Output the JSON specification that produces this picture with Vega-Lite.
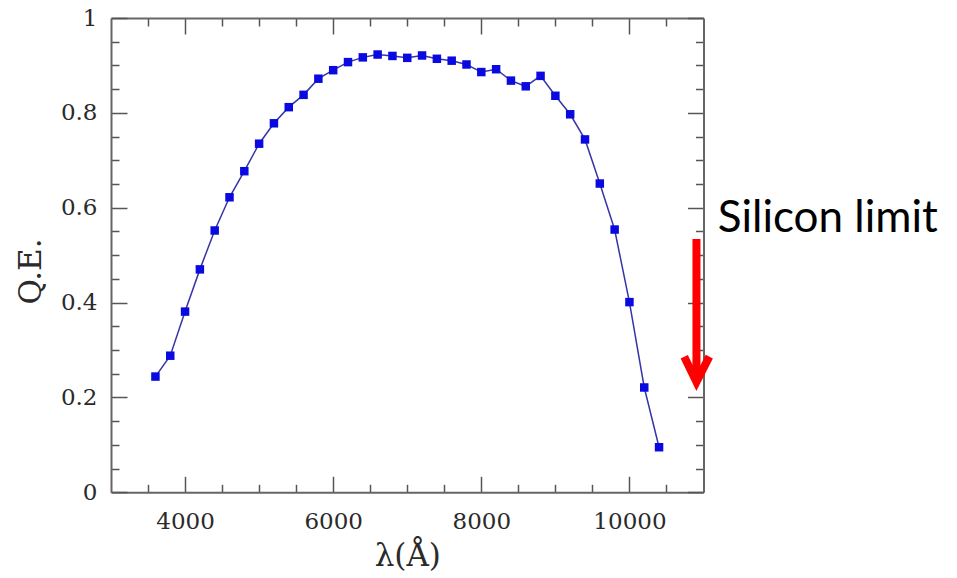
{
  "$schema": "https://vega.github.io/schema/vega-lite/v6.json",
  "autosize": {"type": "none"},
  "padding": {"left": 111, "top": 18, "right": 253.5, "bottom": 85.7},
  "width": 592.5,
  "height": 474.3,
  "background": "white",
  "config": {
    "view": {"stroke": null},
    "axis": {
      "domainColor": "#666666",
      "domainWidth": 2,
      "tickColor": "#555555",
      "tickWidth": 1.5,
      "labelFont": "DejaVu Serif",
      "labelFontSize": 23,
      "labelColor": "#2a2a2a",
      "titleFont": "DejaVu Serif",
      "titleFontSize": 31,
      "titleFontWeight": "normal",
      "titleColor": "#2a2a2a",
      "grid": false,
      "labelOverlap": false,
      "labelFlush": false,
      "labelBound": false
    }
  },
  "datasets": {
    "qe": [
      {"wavelength": 3600, "qe": 0.244},
      {"wavelength": 3800, "qe": 0.288},
      {"wavelength": 4000, "qe": 0.381},
      {"wavelength": 4200, "qe": 0.470},
      {"wavelength": 4400, "qe": 0.552},
      {"wavelength": 4600, "qe": 0.622},
      {"wavelength": 4800, "qe": 0.677},
      {"wavelength": 5000, "qe": 0.735},
      {"wavelength": 5200, "qe": 0.778},
      {"wavelength": 5400, "qe": 0.812},
      {"wavelength": 5600, "qe": 0.838},
      {"wavelength": 5800, "qe": 0.872},
      {"wavelength": 6000, "qe": 0.890},
      {"wavelength": 6200, "qe": 0.907},
      {"wavelength": 6400, "qe": 0.917},
      {"wavelength": 6600, "qe": 0.923},
      {"wavelength": 6800, "qe": 0.920},
      {"wavelength": 7000, "qe": 0.916},
      {"wavelength": 7200, "qe": 0.921},
      {"wavelength": 7400, "qe": 0.914},
      {"wavelength": 7600, "qe": 0.910},
      {"wavelength": 7800, "qe": 0.902},
      {"wavelength": 8000, "qe": 0.886},
      {"wavelength": 8200, "qe": 0.892},
      {"wavelength": 8400, "qe": 0.868},
      {"wavelength": 8600, "qe": 0.856},
      {"wavelength": 8800, "qe": 0.878},
      {"wavelength": 9000, "qe": 0.836},
      {"wavelength": 9200, "qe": 0.797},
      {"wavelength": 9400, "qe": 0.744},
      {"wavelength": 9600, "qe": 0.651},
      {"wavelength": 9800, "qe": 0.554},
      {"wavelength": 10000, "qe": 0.401},
      {"wavelength": 10200, "qe": 0.221},
      {"wavelength": 10400, "qe": 0.095}
    ],
    "arrowShaft": [{"wavelength": 10905, "qe": 0.534, "qe2": 0.245}],
    "arrowHead": [
      {"wavelength": 10740, "qe": 0.286},
      {"wavelength": 10905, "qe": 0.2326},
      {"wavelength": 11078, "qe": 0.286}
    ],
    "note": [{"wavelength": 11193, "qe": 0.549, "label": "Silicon limit"}]
  },
  "layer": [
    {
      "encoding": {
        "x": {
          "field": "wavelength",
          "type": "quantitative",
          "title": "λ(Å)",
          "scale": {"domain": [3000, 11000], "nice": false, "zero": false},
          "axis": {
            "orient": "bottom",
            "values": [3500, 4000, 4500, 5000, 5500, 6000, 6500, 7000, 7500, 8000, 8500, 9000, 9500, 10000, 10500],
            "format": "d",
            "labelExpr": "datum.value % 2000 === 0 ? datum.label : ''",
            "tickSize": {"condition": {"test": "datum.value % 2000 === 0", "value": -16}, "value": -8},
            "labelPadding": 45,
            "labelBaseline": "middle",
            "titleY": 64,
            "titleBaseline": "middle"
          }
        },
        "y": {
          "field": "qe",
          "type": "quantitative",
          "title": "Q.E.",
          "scale": {"domain": [0, 1], "nice": false, "zero": false},
          "axis": {
            "orient": "left",
            "values": [0, 0.05, 0.1, 0.15, 0.2, 0.25, 0.3, 0.35, 0.4, 0.45, 0.5, 0.55, 0.6, 0.65, 0.7, 0.75, 0.8, 0.85, 0.9, 0.95, 1],
            "labelExpr": "round(datum.value * 100) % 20 === 0 ? format(datum.value, '~g') : ''",
            "tickSize": {"condition": {"test": "round(datum.value * 100) % 20 === 0", "value": -16}, "value": -8},
            "labelPadding": 30,
            "titleX": -80,
            "titleY": 253,
            "titleAngle": -90,
            "titleAlign": "center",
            "titleBaseline": "middle"
          }
        }
      },
      "layer": [
        {
          "data": {"name": "qe"},
          "mark": {"type": "line", "color": "#3535a8", "strokeWidth": 1.5}
        },
        {
          "data": {"name": "qe"},
          "mark": {"type": "square", "color": "#0a0ae0", "opacity": 1, "size": 72}
        },
        {
          "data": {"name": "arrowShaft"},
          "mark": {"type": "rule", "color": "#ff0000", "strokeWidth": 8, "strokeCap": "butt"},
          "encoding": {"y2": {"field": "qe2"}}
        },
        {
          "data": {"name": "arrowHead"},
          "mark": {"type": "line", "color": "#ff0000", "strokeWidth": 8, "strokeCap": "butt", "strokeJoin": "miter"}
        },
        {
          "data": {"name": "note"},
          "mark": {"type": "text", "font": "Lato", "fontSize": 44, "align": "left", "baseline": "alphabetic", "color": "#000000"},
          "encoding": {"text": {"field": "label"}}
        }
      ]
    },
    {
      "data": {"name": "qe"},
      "mark": {"type": "point", "opacity": 0},
      "encoding": {
        "x": {
          "field": "wavelength",
          "type": "quantitative",
          "scale": {"domain": [3000, 11000], "nice": false, "zero": false},
          "axis": {
            "orient": "top",
            "title": null,
            "labels": false,
            "values": [3500, 4000, 4500, 5000, 5500, 6000, 6500, 7000, 7500, 8000, 8500, 9000, 9500, 10000, 10500],
            "tickSize": {"condition": {"test": "datum.value % 2000 === 0", "value": -16}, "value": -8}
          }
        },
        "y": {
          "field": "qe",
          "type": "quantitative",
          "scale": {"domain": [0, 1], "nice": false, "zero": false},
          "axis": {
            "orient": "right",
            "title": null,
            "labels": false,
            "values": [0, 0.05, 0.1, 0.15, 0.2, 0.25, 0.3, 0.35, 0.4, 0.45, 0.5, 0.55, 0.6, 0.65, 0.7, 0.75, 0.8, 0.85, 0.9, 0.95, 1],
            "tickSize": {"condition": {"test": "round(datum.value * 100) % 20 === 0", "value": -16}, "value": -8}
          }
        }
      }
    }
  ],
  "resolve": {
    "scale": {"x": "independent", "y": "independent"},
    "axis": {"x": "independent", "y": "independent"}
  }
}
